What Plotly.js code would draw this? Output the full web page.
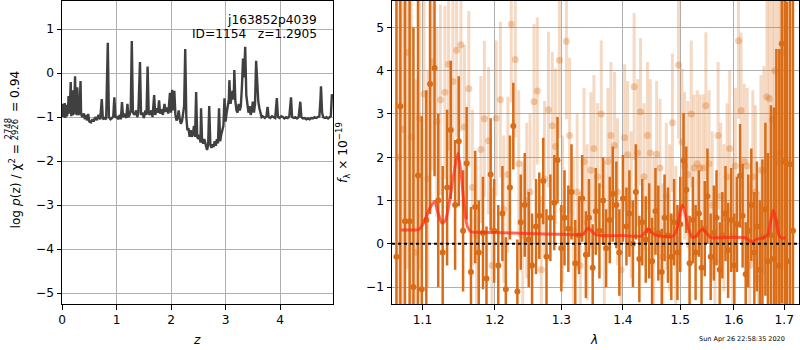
<!DOCTYPE html>
<html>
<head>
<meta charset="utf-8">
<script src="https://cdn.plot.ly/plotly-3.0.1.min.js"></script>
<style>html,body{margin:0;padding:0;background:#fff;}#chart{width:800px;height:350px;}</style>
</head>
<body>
<div id="chart"></div>
<script>
// ---- Left panel: log p(z) ----
const zGrid = [0.00,0.02,0.03,0.05,0.06,0.08,0.09,0.11,0.12,0.14,0.16,0.17,0.19,0.20,0.22,0.24,0.25,0.27,0.28,0.30,0.32,0.34,0.35,0.37,0.40,0.42,0.44,0.46,0.48,0.50,0.53,0.56,0.58,0.61,0.64,0.67,0.70,0.73,0.75,0.78,0.81,0.84,0.86,0.89,0.92,0.94,0.96,0.98,1.00,1.03,1.06,1.08,1.10,1.12,1.15,1.18,1.20,1.22,1.24,1.26,1.28,1.30,1.33,1.36,1.38,1.40,1.43,1.45,1.48,1.50,1.53,1.55,1.57,1.59,1.61,1.64,1.66,1.69,1.71,1.74,1.76,1.78,1.80,1.83,1.85,1.88,1.90,1.93,1.95,1.98,2.00,2.02,2.04,2.06,2.08,2.10,2.12,2.14,2.16,2.18,2.20,2.22,2.24,2.26,2.28,2.30,2.32,2.34,2.36,2.38,2.40,2.42,2.44,2.46,2.48,2.50,2.52,2.54,2.55,2.57,2.59,2.61,2.63,2.65,2.66,2.68,2.70,2.72,2.74,2.76,2.78,2.80,2.82,2.84,2.86,2.88,2.90,2.92,2.94,2.96,2.98,3.00,3.02,3.04,3.06,3.07,3.09,3.11,3.13,3.15,3.16,3.18,3.20,3.22,3.24,3.26,3.28,3.30,3.32,3.34,3.36,3.38,3.40,3.42,3.44,3.46,3.48,3.50,3.52,3.54,3.56,3.58,3.60,3.62,3.64,3.66,3.68,3.70,3.72,3.75,3.77,3.79,3.82,3.85,3.88,3.91,3.94,3.96,3.99,4.02,4.05,4.08,4.11,4.14,4.17,4.20,4.22,4.25,4.28,4.31,4.34,4.37,4.39,4.42,4.45,4.48,4.51,4.54,4.57,4.60,4.63,4.66,4.69,4.72,4.74,4.75,4.77,4.79,4.82,4.85,4.88,4.91,4.93,4.95,4.97];
const logPz = [-1.00,-0.70,-1.00,-0.68,-1.02,-0.72,-0.98,-0.85,-0.52,-0.92,-0.20,-0.98,-0.39,-0.95,-0.90,-0.07,-0.85,-0.95,-0.32,-0.95,-0.90,-0.18,-0.92,-1.00,-0.92,-1.05,-0.95,-1.08,-0.93,-1.10,-1.12,-1.05,-1.10,-1.00,-1.07,-0.95,-1.05,-0.59,-1.05,-1.02,-1.05,0.69,-1.00,-1.05,-1.02,-0.98,-0.55,-1.02,-0.98,-1.05,-0.95,-1.05,-0.66,-1.00,-0.95,-1.02,-0.70,-1.00,-0.95,-0.85,0.73,-0.90,-0.95,-0.85,-1.00,-0.90,0.25,-0.95,-0.90,-1.02,-0.85,-0.95,0.15,-0.90,-0.95,-0.85,-1.00,-0.50,-0.95,-0.80,-0.90,-0.62,-0.92,-0.82,-0.95,-0.70,-0.88,-0.78,-0.92,-0.45,-0.90,-0.38,-0.85,-0.40,-0.95,-1.08,-1.02,-0.85,-1.05,-1.15,-1.10,-0.95,-0.75,0.55,-1.00,-1.30,-1.25,-1.45,-1.30,-1.45,-1.38,-1.20,-1.45,-0.43,-1.45,-1.50,-1.40,-1.58,-0.80,-1.55,-1.60,-1.50,-1.62,-1.70,-1.75,-1.65,-0.75,-1.60,-1.70,-1.62,-1.68,-1.55,-1.65,-1.50,-1.60,-0.80,-1.55,-1.40,-1.30,-1.20,-0.57,-1.10,-0.90,-0.70,-0.60,-0.16,-0.70,-0.55,-0.40,-0.60,0.07,-0.65,-0.85,-0.90,-0.70,-0.85,-0.75,-0.30,0.33,-0.10,0.60,-0.50,-0.80,-0.90,-0.75,-0.95,-0.85,-0.65,-0.90,-0.70,0.28,-0.40,-0.65,-0.80,-0.95,-1.00,-0.98,-1.00,-1.02,-0.98,-0.77,-1.00,-1.02,-0.98,-1.00,-1.02,-0.57,-1.00,-1.02,-0.98,-1.00,-1.03,-1.00,-1.02,-0.98,-0.55,-1.00,-1.02,-1.00,-1.03,-1.00,-0.65,-1.00,-1.03,-1.02,-1.05,-1.03,-1.05,-1.02,-1.03,-1.00,-1.02,-1.00,-0.98,-0.60,-0.30,-0.90,-1.00,-1.02,-1.00,-1.03,-1.00,-0.98,-0.48,-0.60];

// ---- Right panel: spectrum (flux in 1e-19) ----
const lamA = [1.066,1.071,1.077,1.083,1.088,1.094,1.099,1.105,1.110,1.116,1.121,1.127,1.133,1.138,1.144,1.149,1.155,1.160,1.166,1.172,1.177,1.183,1.188,1.194,1.199,1.205,1.211,1.216,1.222,1.227,1.233,1.238,1.244,1.250,1.255,1.261,1.266,1.272,1.277,1.283,1.289,1.294,1.300,1.305,1.311,1.316,1.322,1.328,1.333,1.339,1.344,1.350,1.355,1.361,1.367,1.372,1.378,1.383,1.389,1.394,1.400,1.406,1.411,1.417,1.422,1.428,1.433,1.439,1.445,1.450,1.456,1.461,1.467,1.472,1.478,1.484,1.489,1.495,1.500,1.506,1.511,1.517,1.523,1.528,1.534,1.539,1.545,1.550,1.556,1.562,1.567,1.573,1.578,1.584,1.589,1.595,1.601,1.606,1.612,1.617,1.623,1.628,1.634,1.640,1.645,1.651,1.656,1.662,1.667,1.673,1.679,1.684,1.690,1.695,1.701,1.706,1.712,1.718];
const fluxA = [-0.30,3.18,0.52,0.52,-1.00,1.58,-1.05,0.55,3.69,4.06,1.00,-0.20,1.30,2.63,0.90,2.37,0.30,1.86,-0.65,0.85,-0.20,0.25,-0.80,1.60,0.30,-0.50,0.70,-1.05,1.30,2.72,-1.10,0.50,0.90,0.10,-0.50,0.40,0.65,1.45,-0.30,0.60,0.95,1.93,-0.10,0.60,0.35,1.20,-0.45,0.20,1.05,-0.25,0.60,-0.55,0.75,0.30,1.00,-0.10,0.55,1.15,0.90,-0.20,1.05,0.40,0.70,0.00,1.20,-0.35,0.50,0.10,0.30,-0.40,0.75,0.25,-0.65,0.60,0.20,-0.30,0.50,-0.20,0.45,1.92,1.25,-0.45,0.55,-0.20,0.70,-0.55,0.35,1.10,-0.30,0.25,0.60,-0.60,0.20,0.70,-0.15,0.55,-0.50,0.45,1.57,0.65,-0.70,0.30,0.90,-0.20,0.40,-0.60,0.15,0.80,-0.40,0.20,-0.35,0.50,-0.50,4.62,1.90,-0.40,1.84,0.30];
const errA = [6,6,6,6,6,5,4,3,3,2.5,2,2,1.8,1.6,1.5,1.5,1.4,1.3,1.5,1.3,1.2,1.3,1.2,1.3,1.2,1.4,1.1,1.2,1.2,1.0,1.2,1.1,1.2,1.1,1.2,1.1,1.0,1.0,1.1,1.0,1.1,1.0,1.0,1.1,1.0,1.1,1.0,0.9,1.0,1.0,0.9,1.0,1.0,1.1,1.0,0.9,1.0,1.1,1.0,1.0,1.0,0.9,1.0,1.0,1.1,1.0,1.0,1.0,1.1,1.0,1.0,1.1,1.0,1.0,1.1,1.0,1.0,1.1,1.1,1.1,1.0,1.1,1.0,1.1,1.0,1.1,1.1,1.1,1.0,1.1,1.1,1.1,1.0,1.1,1.1,1.2,1.2,1.1,1.2,1.2,1.2,1.3,1.3,1.4,1.5,1.6,1.8,2,2.5,3,3.5,4,5,6,6,6,6,6];

const lamB = [1.069,1.074,1.080,1.085,1.091,1.096,1.102,1.107,1.113,1.119,1.124,1.130,1.135,1.141,1.146,1.152,1.157,1.163,1.168,1.174,1.180,1.185,1.191,1.196,1.202,1.208,1.213,1.219,1.224,1.230,1.235,1.241,1.247,1.252,1.258,1.263,1.269,1.274,1.280,1.286,1.291,1.297,1.302,1.308,1.313,1.319,1.325,1.330,1.336,1.341,1.347,1.352,1.358,1.364,1.369,1.375,1.380,1.386,1.391,1.397,1.403,1.408,1.414,1.419,1.425,1.430,1.436,1.442,1.447,1.453,1.458,1.464,1.469,1.475,1.481,1.486,1.492,1.497,1.503,1.508,1.514,1.520,1.525,1.531,1.536,1.542,1.547,1.553,1.559,1.564,1.570,1.575,1.581,1.587,1.592,1.598,1.603,1.609,1.614,1.620,1.626,1.631,1.637,1.642,1.648,1.653,1.659,1.665,1.670,1.676,1.681,1.687,1.692,1.698,1.703];
const fluxB = [2.00,2.65,4.42,2.47,-0.20,2.90,3.46,1.50,4.20,2.82,3.33,3.50,4.15,3.75,4.47,4.60,2.70,3.58,1.30,0.20,2.18,2.89,2.38,-0.50,2.90,3.33,0.80,1.60,5.07,4.26,1.85,0.20,1.00,1.20,3.28,3.53,-0.60,1.50,3.10,2.73,2.25,4.24,0.80,4.68,2.50,0.30,1.20,-0.50,1.90,0.50,1.70,2.20,1.55,3.00,0.20,1.90,2.50,2.27,1.20,-0.60,2.45,2.06,0.90,3.63,2.10,3.05,1.55,2.50,2.10,0.30,2.07,1.75,-0.30,1.10,0.60,2.80,0.10,4.13,2.35,1.80,1.60,3.00,1.75,1.85,1.75,1.75,3.19,1.85,0.90,-0.40,2.50,1.10,0.60,1.55,2.20,0.20,1.80,4.69,3.08,1.90,1.80,-0.50,1.55,1.20,-0.80,1.70,1.70,3.40,3.35,2.87,4.00,1.90,2.10,4.42,1.90];
const errB = [5,5,5,5,4,3.5,3,2.5,2.5,2.2,2.2,2.0,2.0,2.0,2.0,2.0,1.9,1.8,1.8,1.8,1.7,1.8,1.7,1.8,1.8,1.8,1.7,1.8,1.8,1.8,1.7,1.7,1.8,1.8,1.8,1.7,1.7,1.8,1.8,1.7,1.8,1.8,1.7,1.8,1.8,1.7,1.8,1.7,1.7,1.8,1.8,1.7,1.7,1.7,1.7,1.7,1.7,1.7,1.7,1.6,1.7,1.7,1.7,1.7,1.7,1.7,1.7,1.7,1.7,1.7,1.7,1.6,1.7,1.7,1.7,1.6,1.7,1.7,1.7,1.7,1.7,1.7,1.7,1.7,1.7,1.7,1.7,1.7,1.7,1.7,1.7,1.7,1.7,1.7,1.8,1.8,1.8,1.8,1.8,1.8,1.8,1.9,2.0,2.0,2.0,2.2,2.4,2.6,2.8,3,3.5,4,4.5,5,5];

const lamModel = [1.072,1.080,1.090,1.095,1.102,1.109,1.116,1.121,1.126,1.131,1.136,1.141,1.148,1.153,1.157,1.161,1.166,1.180,1.200,1.250,1.300,1.334,1.339,1.343,1.348,1.354,1.362,1.400,1.432,1.438,1.443,1.449,1.456,1.470,1.484,1.490,1.496,1.500,1.504,1.509,1.515,1.522,1.530,1.536,1.542,1.548,1.556,1.600,1.622,1.630,1.636,1.643,1.656,1.666,1.672,1.678,1.684,1.690,1.696,1.703];
const fluxModel = [0.32,0.32,0.32,0.33,0.50,0.80,0.98,0.70,0.48,0.55,0.95,1.50,2.10,1.50,0.80,0.40,0.28,0.27,0.26,0.24,0.22,0.22,0.30,0.37,0.30,0.22,0.19,0.19,0.18,0.27,0.35,0.27,0.20,0.17,0.16,0.22,0.45,0.75,0.90,0.70,0.35,0.15,0.18,0.30,0.33,0.25,0.15,0.15,0.14,0.08,0.04,0.10,0.13,0.20,0.50,0.78,0.50,0.18,0.13,0.14];

const lamTicks = [1.1,1.2,1.3,1.4,1.5,1.6,1.7];
const lamTickText = ["1.1","1.2","1.3","1.4","1.5","1.6","1.7"];

// ---- geometry (pixels -> paper) ----
const W = 800, H = 350;
const px = v => v / W;
const py = v => (H - v) / H;
const FONT = "DejaVu Sans";
const FS = 12.2;
const dark = "rgb(217,108,22)";

const traces = [
  {x: zGrid, y: logPz, type: "scatter", mode: "lines", xaxis: "x", yaxis: "y",
   line: {color: "rgb(64,64,64)", width: 2.4}, hoverinfo: "skip"},
  {x: lamB, y: fluxB, type: "scatter", mode: "markers", xaxis: "x2", yaxis: "y2",
   marker: {color: "rgba(217,108,22,0.32)", size: 7},
   error_y: {type: "data", array: errB, visible: true, thickness: 3, width: 0, color: "rgba(217,108,22,0.26)"}},
  {x: lamA, y: fluxA, type: "scatter", mode: "markers", xaxis: "x2", yaxis: "y2",
   marker: {color: dark, size: 6},
   error_y: {type: "data", array: errA, visible: true, thickness: 2.5, width: 0, color: dark}},
  {x: lamModel, y: fluxModel, type: "scatter", mode: "lines", xaxis: "x2", yaxis: "y2",
   line: {color: "rgba(255,40,20,0.7)", width: 3, shape: "spline", smoothing: 0.6}}
];

const axBase = {
  showline: true, mirror: true, linecolor: "black", linewidth: 1,
  ticks: "outside", ticklen: 4.5, tickwidth: 1, tickcolor: "black",
  showgrid: true, gridcolor: "#b0b0b0", gridwidth: 1, zeroline: false,
  tickfont: {family: FONT, size: FS, color: "black"}
};

const layout = {
  width: W, height: H, margin: {l: 0, r: 0, t: 0, b: 0},
  paper_bgcolor: "white", plot_bgcolor: "white", showlegend: false,
  font: {family: FONT, color: "black"},
  xaxis: Object.assign({}, axBase, {domain: [px(62), px(333)], range: [0, 4.97], tickvals: [0,1,2,3,4], anchor: "y"}),
  yaxis: Object.assign({}, axBase, {domain: [py(304), py(1)], range: [-5.25, 1.64], tickvals: [-5,-4,-3,-2,-1,0,1], anchor: "x"}),
  xaxis2: Object.assign({}, axBase, {domain: [px(392), px(798.5)], type: "log",
    range: [Math.log10(1.0603), Math.log10(1.7295)], tickvals: lamTicks, ticktext: lamTickText, anchor: "y2"}),
  yaxis2: Object.assign({}, axBase, {domain: [py(304), py(1)], range: [-1.39, 5.61], tickvals: [-1,0,1,2,3,4,5], anchor: "x2"}),
  shapes: [
    {type: "line", xref: "x2 domain", yref: "y2", x0: 0, x1: 1, y0: 0, y1: 0,
     line: {color: "black", width: 2, dash: "dot"}, layer: "above"}
  ],
  annotations: [
    {xref: "paper", yref: "paper", x: px(319), y: py(19.5), xanchor: "right", yanchor: "middle", showarrow: false,
     text: "j163852p4039", font: {family: FONT, size: FS}},
    {xref: "paper", yref: "paper", x: px(319), y: py(34.5), xanchor: "right", yanchor: "middle", showarrow: false,
     text: "ID=1154&nbsp;&nbsp;&nbsp;z=1.2905", font: {family: FONT, size: FS}},
    {xref: "paper", yref: "paper", x: px(197), y: py(340), xanchor: "center", yanchor: "middle", showarrow: false,
     text: "<i>z</i>", font: {family: FONT, size: FS}},
    {xref: "paper", yref: "paper", x: px(594), y: py(340), xanchor: "center", yanchor: "middle", showarrow: false,
     text: "<i>λ</i>", font: {family: FONT, size: FS}},
    {xref: "paper", yref: "paper", x: px(14.5), y: py(186), xanchor: "center", yanchor: "middle", showarrow: false, textangle: -90,
     text: "log <i>p</i>(z) / χ<sup>2</sup> =", font: {family: FONT, size: FS}},
    {xref: "paper", yref: "paper", x: px(7.5), y: py(129), xanchor: "center", yanchor: "middle", showarrow: false, textangle: -90,
     text: "2748", font: {family: FONT, size: 8.5}},
    {xref: "paper", yref: "paper", x: px(14.5), y: py(129), xanchor: "center", yanchor: "middle", showarrow: false, textangle: -90,
     text: "2926", font: {family: FONT, size: 8.5}},
    {xref: "paper", yref: "paper", x: px(14.5), y: py(91.5), xanchor: "center", yanchor: "middle", showarrow: false, textangle: -90,
     text: "= 0.94", font: {family: FONT, size: FS}},
    {xref: "paper", yref: "paper", x: px(343), y: py(153), xanchor: "center", yanchor: "middle", showarrow: false, textangle: -90,
     text: "<i>f</i><sub>λ</sub> × 10<sup>−19</sup>", font: {family: FONT, size: FS}},
    {xref: "paper", yref: "paper", x: px(742), y: py(339), xanchor: "center", yanchor: "middle", showarrow: false,
     text: "Sun Apr 26 22:58:35 2020", font: {family: FONT, size: 6.5}}
  ]
};

Plotly.newPlot("chart", traces, layout, {staticPlot: true, displayModeBar: false});
</script>
</body>
</html>
